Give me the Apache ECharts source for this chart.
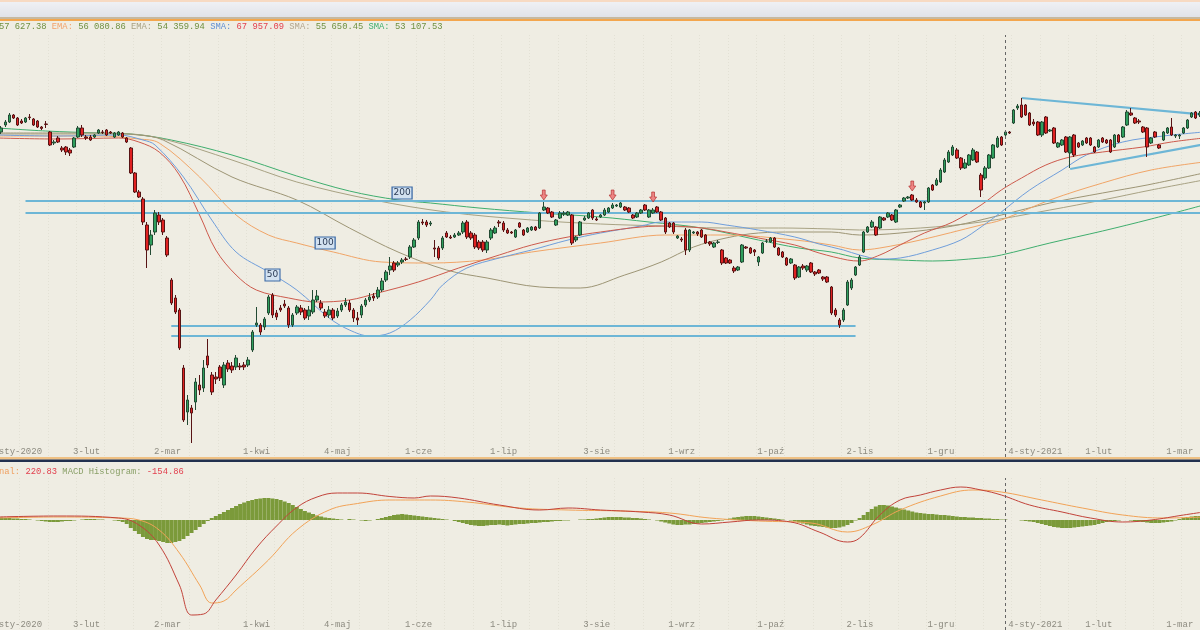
<!DOCTYPE html>
<html><head><meta charset="utf-8">
<script src="https://cdn.jsdelivr.net/npm/echarts@6/dist/echarts.min.js"></script>
<style>html,body{margin:0;padding:0;background:#efede3;overflow:hidden;width:1200px;height:630px}#c{position:absolute;left:-17px;top:0;width:1240px;height:630px}</style>
</head><body><div id="c"></div><script>
// Daily candles [open, close, low, high], Jan 2020 - Mar 2021 (index = trading day)
const candles = [
[53650,53800,53550,53900],[53750,53900,53650,54000],[53900,53700,53600,54000],[53650,53500,53400,53750],[53400,53600,53300,53700],
[53750,53900,53650,54000],[53900,54250,53850,54350],[54250,54100,54050,54300],[54100,53750,53700,54150],[53950,53850,53800,54050],
[53900,54100,53850,54150],[54150,54120,54000,54300],[54050,53750,53700,54100],[53950,53650,53600,54000],[53650,53580,53500,53700],
[53800,53780,53600,53950],[53400,52750,52700,53450],[52850,52900,52750,53000],[53100,52900,52850,53200],[52600,52500,52400,52700],
[52650,52400,52250,52700],[52500,52350,52200,52600],[52650,53100,52600,53150],[53150,53600,53100,53700],[53600,53250,53150,53750],
[53150,53100,53000,53250],[53150,53000,52950,53250],[53150,53250,53100,53300],[53350,53500,53300,53550],[53400,53380,53300,53500],
[53500,53250,53200,53550],[53400,53350,53300,53450],[53150,53350,53100,53400],[53250,53400,53200,53450],[53350,53150,53100,53400],
[53100,52900,52850,53150],[52600,51350,51300,52650],[51350,50400,50350,51400],[50400,50150,50100,50500],[50050,48900,48750,50150],
[48750,47500,46600,48900],[47750,48250,47250,48500],[48400,49350,48250,49500],[49250,48900,48750,49400],[49000,48400,48250,49100],
[48100,47250,47150,48200],[46000,44850,44750,46100],[45100,44400,44300,45250],[44500,42600,42500,44600],[41600,39000,38900,41750],
[39400,40000,38750,40250],[39600,39350,37850,39750],[39900,40900,39500,41100],[40750,40500,40250,41250],[40600,41600,40400,42000],
[42200,41750,41600,43050],[41250,40400,40250,41400],[41150,41050,40800,41400],[41650,41100,40950,41750],[40750,41750,40600,41900],
[41850,41550,41400,42000],[41700,41500,41350,41900],[41650,42100,41500,42250],[41700,41650,41500,41850],[41750,41650,41500,41900],
[41750,42000,41650,42150],[42500,43400,42400,43500],[43750,43850,43650,44650],[43750,43400,43250,43850],[43650,44050,43500,44150],
[44350,45150,44250,45250],[45250,44250,44100,45350],[44350,44150,44000,44500],[44600,44500,44400,44750],[44800,44700,44600,45000],
[44600,43750,43600,44700],[43750,44250,43650,44350],[44350,44650,44250,44750],[44600,44400,44250,44750],[44500,44100,44000,44600],
[44200,44500,44000,44700],[44400,45000,44300,45500],[45000,45200,44900,45500],[44850,44600,44500,45000],[44400,44200,44100,44550],
[44250,44500,44100,44700],[44500,44100,44000,44600],[44200,44450,44100,44600],[44500,44750,44400,44850],[44750,44900,44650,45100],
[44850,44500,44400,45000],[44500,44100,43900,44600],[44100,44000,43750,44400],[44250,44700,44100,44800],[44750,45000,44650,45100],
[45000,45150,44900,45350],[45200,45100,44950,45350],[45150,45500,45050,45650],[45500,45950,45400,46100],[46000,46400,45900,46500],
[46500,46700,46250,47150],[46850,46500,46400,46950],[46750,46850,46650,46950],[46900,47000,46800,47100],[47050,47030,46950,47150],
[47150,47650,47050,47750],[47650,48000,47600,48100],[48100,48900,48000,49000],[48900,48850,48750,49050],[48900,48750,48650,49000],
[48800,48850,48700,48950],[47600,47550,47150,48000],[47600,47100,47000,47700],[47600,48100,47500,48200],[48350,48150,48100,48450],
[48150,48100,48050,48250],[48150,48250,48100,48350],[48250,48350,48200,48450],[48400,48850,48300,48950],[48900,48150,48050,49000],
[48350,48100,48000,48450],[48250,47650,47550,48350],[47900,47600,47500,48000],[47900,47500,47400,48000],[47500,47900,47350,48000],
[48100,48500,48000,48600],[48350,48600,48300,48700],[48900,48850,48650,49000],[48850,48500,48400,48950],[48500,48350,48300,48600],
[48400,48350,48300,48450],[48150,48500,48100,48550],[48850,48650,48600,48900],[48500,48250,48200,48550],[48400,48600,48350,48650],
[48500,48650,48450,48700],[48650,48500,48450,48700],[48600,49350,48550,49400],[49500,49650,49450,49900],[49600,49350,49300,49650],
[49400,49150,49100,49450],[48750,49000,48700,49050],[49100,49350,49050,49450],[49300,49350,49200,49450],[49250,49400,49200,49450],
[49250,47850,47750,49300],[48000,48150,47900,48200],[48250,48900,48200,48950],[49000,49100,48950,49200],[49100,49350,49050,49400],
[49500,49100,49000,49550],[49050,49000,48950,49150],[49150,49250,49100,49300],[49250,49500,49200,49600],[49400,49600,49350,49650],
[49600,49750,49550,49850],[49700,49750,49650,49800],[49650,49850,49600,49900],[49650,49500,49450,49700],[49600,49400,49350,49650],
[49250,49100,49050,49300],[49150,49350,49100,49400],[49350,49500,49300,49550],[49750,49500,49450,49800],[49150,49500,49100,49550],
[49350,49500,49300,49600],[49650,49400,49350,49700],[49400,49000,48950,49450],[49100,48400,48300,49150],[48850,48650,48600,48900],
[48850,48400,48300,48900],[48100,48200,48050,48250],[48050,48000,47900,48150],[48500,47500,47250,48600],[47500,48500,47400,48550],
[48350,48400,48300,48450],[48400,48300,48200,48450],[48500,48150,48100,48550],[48250,47850,47800,48300],[47900,47800,47700,47950],
[47650,47850,47600,47900],[47880,47900,47800,48000],[47500,46850,46750,47550],[47100,46850,46800,47150],[47000,46850,46800,47050],
[46600,46450,46350,46700],[46500,46650,46450,46700],[46900,47750,46850,47800],[47650,47600,47550,47700],[47600,47350,47300,47650],
[47500,47400,47200,47550],[46900,47150,46700,47200],[47350,47850,47300,47900],[47950,47950,47850,48050],[47900,48100,47850,48150],
[48100,47650,47600,48150],[47600,47250,47200,47650],[47400,47150,47100,47450],[47100,46750,46700,47150],[46850,47050,46800,47100],
[46750,46100,46000,46800],[46150,46650,46100,46700],[46700,46600,46500,46800],[46500,46700,46400,46750],[46850,46400,46350,46900],
[46400,46300,46200,46450],[46500,46350,46300,46550],[46150,46050,45950,46200],[46150,45900,45850,46200],[45650,44350,44250,45700],
[44500,44250,44150,44600],[44000,43750,43600,44100],[44000,44500,43900,44600],[44750,45900,44700,46000],[45600,46000,45500,46100],
[46250,46650,46200,46700],[46750,47150,46700,47250],[47400,48400,47350,48450],[48400,48650,48350,48700],[48650,48900,48600,49000],
[48650,48250,48200,48700],[48600,49150,48550,49200],[49100,49000,48950,49150],[49150,49350,49100,49400],[49250,49000,48950,49300],
[48900,49500,48850,49550],[49650,49750,49600,49800],[49950,50100,49900,50150],[50100,50150,50050,50200],[50250,50000,49950,50300],
[50000,49900,49850,50100],[49900,49650,49600,49950],[49850,49900,49500,49950],[49900,50600,49850,50650],[50750,50500,50450,50800],
[50750,51000,50700,51100],[50900,51500,50850,51600],[51400,52000,51350,52100],[51900,52400,51850,52500],[52250,52650,52200,52750],
[52500,52100,52050,52600],[52100,51600,51500,52150],[51600,51850,51550,52050],[51750,52250,51700,52300],[52000,52500,51950,52600],
[52400,51900,51850,52450],[51250,50500,50150,51350],[51100,51600,51000,51700],[51600,52250,51550,52300],[52100,52750,52050,52800],
[52650,53100,52600,53200],[53150,52750,52700,53200],[53250,53400,53200,53450],[53400,53350,53300,53450],[53850,54500,53800,54550],
[54600,54700,54500,54800],[54750,54150,54100,55100],[54750,54250,54200,54800],[54350,53750,53700,54400],[53900,53800,53700,54050],
[53900,53250,53200,53950],[53250,53900,53150,53950],[54150,53350,53300,54200],[53450,53500,53400,53550],[53600,52850,52800,53650],
[52650,52850,52600,52900],[52750,53000,52700,53050],[53150,52400,52350,53200],[52350,53150,51600,53200],[53250,52250,52150,53300],
[52850,52650,52600,52900],[52750,52950,52700,53000],[53100,52850,52800,53150],[53100,52750,52700,53150],[52650,52400,52350,52700],
[52650,53000,52600,53050],[53100,52900,52850,53150],[53000,52850,52800,53050],[53000,52400,52350,53050],[52650,53250,52600,53300],
[53250,52900,52850,53300],[53150,53650,53100,53700],[53750,54400,53700,54500],[54350,54250,54200,54600],[54100,53850,53800,54150],
[53950,53900,53800,54050],[53650,53400,53350,53700],[53600,52650,52150,53650],[52850,53100,52800,53150],[53400,53150,53100,53450],
[52750,52600,52550,52800],[53000,53400,52950,53450],[53350,53600,53300,53650],[53650,53250,53200,54100],[53200,53250,53100,53300],
[53200,53250,53050,53300],[53350,53600,53300,53650],[53600,54000,53550,54050],[54150,54350,54100,54400],[54400,54100,54050,54450],
[54250,54350,54150,54450]
];
// month tick labels: [trading-day index, label]
const monthTicks = [[0,'2-sty-2020'],[21,'3-lut'],[41,'2-mar'],[63,'1-kwi'],[83,'4-maj'],[103,'1-cze'],[124,'1-lip'],[147,'3-sie'],[168,'1-wrz'],[190,'1-paź'],[212,'2-lis'],[232,'1-gru'],[252,'4-sty-2021'],[271,'1-lut'],[291,'1-mar']];
// moving averages [day, value]
const emaRed = [[3,53100],[18,53050],[33,53100],[38,52900],[43,52400],[48,51250],[53,49250],[57,47500],[62,46250],[67,45500],[75,45100],[82,44900],[90,45000],[97,45350],[107,45900],[117,46600],[127,47250],[135,47750],[144,48150],[152,48400],[162,48650],[169,48700],[177,48600],[183,48400],[191,48100],[200,47750],[206,47350],[213,47000],[216,46950],[221,47250],[226,47750],[232,48350],[239,48900],[246,49750],[251,50500],[256,51100],[262,51750],[268,52150],[276,52400],[286,52650],[293,52900],[301,53100]];
const emaOrange = [[3,53200],[28,53200],[38,53050],[43,52850],[53,51150],[62,49250],[70,48250],[77,47850],[86,47400],[98,46900],[110,46850],[123,47000],[135,47400],[152,47850],[168,48250],[183,48250],[200,48000],[209,47750],[216,47500],[221,47600],[231,48000],[246,48750],[251,49000],[263,50000],[276,50850],[288,51500],[301,51900]];
const emaOlive = [[3,53300],[35,53300],[45,53000],[61,52000],[77,50900],[96,50000],[114,49400],[135,49000],[152,48800],[167,48700],[182,48600],[196,48600],[209,48550],[216,48500],[231,48600],[246,48900],[263,49500],[276,50000],[288,50500],[301,51000]];
const smaBlue = [[3,53250],[18,53200],[33,53250],[39,53000],[42,52750],[49,51150],[56,49000],[62,47400],[70,46400],[77,45500],[85,44100],[90,43500],[95,43200],[100,43350],[105,44000],[110,45000],[113,45750],[119,46600],[127,47100],[135,47500],[144,48000],[152,48350],[162,48700],[167,48900],[177,48900],[183,48750],[191,48500],[200,48150],[206,47800],[212,47500],[216,47250],[221,47050],[226,47100],[234,47500],[241,48000],[246,48650],[251,49400],[258,50500],[266,51500],[272,52250],[281,52900],[291,53200],[301,53400]];
const smaTan = [[3,53350],[28,53350],[38,53250],[44,53000],[61,51150],[77,50000],[90,48600],[102,47400],[114,46500],[124,46100],[137,45650],[147,45600],[158,46250],[167,46900],[175,47650],[183,48100],[191,48350],[200,48400],[209,48400],[216,48250],[226,48350],[239,48700],[251,49250],[263,49850],[276,50350],[287,50750],[301,51350]];
const smaGreen = [[3,53600],[15,53450],[28,53350],[36,53300],[46,53000],[61,52250],[77,51200],[90,50450],[102,50000],[110,49850],[122,49600],[137,49350],[152,49150],[164,48900],[177,48600],[191,48000],[201,47600],[209,47400],[216,47100],[226,47000],[234,46950],[246,47100],[251,47250],[263,47850],[276,48450],[288,49050],[301,49750]];
// support / resistance levels and trendlines
const levelsUpper = [49950, 49350];
const levelsLower = [43700, 43200];
const trendUpper = [[256,55100],[301,54265]];
const trendLower = [[268,51550],[301,52785]];
const periodTags = [[103,50350,'200'],[84,47850,'100'],[71,46250,'50']];
const arrows = [[138,50250],[155,50250],[165,50150],[229,50700]];
// MACD panel
const macdLine = [[3,60],[18,80],[33,40],[38,-100],[43,-500],[48,-1300],[51,-1900],[54,-1880],[57,-1600],[62,-1100],[67,-560],[72,-120],[77,250],[82,460],[87,540],[92,540],[100,470],[106,440],[110,480],[117,440],[127,300],[137,200],[144,240],[152,200],[162,160],[169,100],[177,-80],[184,-40],[191,0],[199,-40],[206,-240],[213,-440],[216,-360],[221,100],[226,400],[231,500],[236,600],[241,660],[246,600],[251,500],[258,300],[266,160],[273,40],[281,-40],[288,0],[296,100],[301,160]];
const signalLine = [[3,40],[18,60],[33,40],[38,0],[43,-200],[48,-660],[53,-1300],[56,-1660],[59,-1620],[62,-1400],[70,-800],[77,-200],[85,200],[92,330],[100,400],[110,400],[119,360],[132,240],[144,200],[157,180],[169,140],[179,40],[191,-20],[204,-60],[213,-240],[219,-100],[226,200],[236,480],[244,600],[251,560],[261,400],[271,240],[281,100],[291,40],[301,60]];
const macdHist = [
40,50,60,60,50,40,40,30,30,20,20,10,0,
-10,-20,-30,-40,-40,-40,-30,-20,-20,-10,
0,10,20,20,20,10,10,0,0,-10,-20,-40,
-80,-160,-220,-280,-340,-380,-400,-400,-420,-440,-460,-460,-440,-420,-380,-320,-260,-200,-140,-80,-20,40,
80,120,160,200,240,280,320,350,380,400,420,430,440,440,430,420,400,370,340,300,260,220,180,150,120,90,70,50,40,30,20,10,0,
20,10,0,-10,-20,-10,0,20,40,60,
80,100,110,120,110,100,90,80,70,60,50,
40,30,20,10,0,-20,-40,-60,-80,
-100,-110,-120,-120,-110,-100,-100,-90,-100,-110,-100,-90,-80,-80,-70,-60,-60,-50,-40,-40,-30,-20,
-20,-10,-10,0,0,10,10,20,20,30,
40,50,60,60,60,60,50,50,40,40,30,20,10,0,-10,
-30,-50,-70,-90,-100,-100,-90,-90,-80,-70,-60,-50,-40,-30,-20,-10,
10,30,50,60,70,80,80,80,70,60,50,40,30,20,10,0,-10,
-30,-50,-70,-90,-110,-120,-130,-140,-150,-160,-160,-150,-130,-100,-60,
-10,40,100,160,220,270,300,300,290,270,250,230,210,190,170,150,140,
130,120,120,110,100,100,90,80,70,60,60,50,50,40,40,30,30,20,20,10,
10,0,0,0,-10,-20,-30,-40,-60,
-80,-100,-120,-140,-150,-160,-160,-160,-150,-140,-130,-120,-110,-100,-80,-60,-40,-30,
-20,-10,0,0,-10,-20,-30,
-40,-50,-60,-60,-60,-50,-40,-30,-10,
20,40,60,70,80,80
];
const dividerDay = '252';

const N = 302;
const cats = Array.from({length: N}, (_, i) => String(i));
const tickMap = {};
monthTicks.forEach(([i, l]) => { tickMap[i] = l; });
const BW = 4.049, WIDTH = N * BW;
const OX = 17; // container is shifted 17px left of the page
const MONO = "'Liberation Mono','DejaVu Sans Mono',monospace";

function xAxisDef(gi) {
  return {
    type: 'category', gridIndex: gi, data: cats, boundaryGap: true,
    axisLine: {show: false}, axisTick: {show: false},
    splitLine: {show: true, interval: (i) => (i % 7 === 2), lineStyle: {color: '#e3e1d5', type: [1, 2]}},
    axisLabel: {
      show: true, inside: true, margin: 1, align: 'left', padding: [0, 0, 0, 3],
      interval: (i) => tickMap[i] !== undefined,
      formatter: (v, i) => tickMap[i] || '',
      fontFamily: MONO, fontSize: 9, color: '#8d8b80'
    }
  };
}
function lineSeries(data, color) {
  return {type: 'line', data, xAxisIndex: 0, yAxisIndex: 0, showSymbol: false, smooth: 0.35,
    lineStyle: {color, width: 1}, silent: true, z: 2};
}
function seg(data, width) {
  return {type: 'line', data, xAxisIndex: 0, yAxisIndex: 0, showSymbol: false,
    lineStyle: {color: '#6db6d6', width}, silent: true, z: 3};
}

const series = [
  lineSeries(smaGreen, '#3fae6e'),
  lineSeries(emaOlive, '#a8a283'),
  lineSeries(smaTan, '#9d9575'),
  lineSeries(emaOrange, '#f1a567'),
  lineSeries(smaBlue, '#6f9edb'),
  lineSeries(emaRed, '#cd5a4c'),
  seg([[10, levelsUpper[0]], [301, levelsUpper[0]]], 2),
  seg([[10, levelsUpper[1]], [301, levelsUpper[1]]], 2),
  seg([[46, levelsLower[0]], [215, levelsLower[0]]], 2),
  seg([[46, levelsLower[1]], [215, levelsLower[1]]], 2),
  seg(trendUpper, 2.2),
  seg(trendLower, 2.2),
  {
    type: 'candlestick', data: candles, xAxisIndex: 0, yAxisIndex: 0, barWidth: 3, z: 4,
    itemStyle: {color: '#2f9f5d', color0: '#e02222', borderColor: '#234a33', borderColor0: '#571414', borderWidth: 1},
    markLine: {silent: true, symbol: 'none', label: {show: false},
      lineStyle: {color: '#666', type: [3, 3], width: 1}, data: [{xAxis: dividerDay}]}
  },
  {
    type: 'scatter', xAxisIndex: 0, yAxisIndex: 0, z: 6, silent: true,
    data: periodTags.map(([d, v, t]) => ({value: [d, v], name: t, symbolSize: t.length > 2 ? [20, 12] : [15, 12]})),
    symbol: 'rect',
    itemStyle: {color: '#d3e2f1', borderColor: '#3d6ba6', borderWidth: 1, opacity: 1},
    label: {show: true, position: 'inside', formatter: (p) => p.name, fontSize: 9, color: '#2b3b55', fontFamily: "'DejaVu Sans',sans-serif"}
  },
  {
    type: 'scatter', xAxisIndex: 0, yAxisIndex: 0, z: 6, silent: true, data: arrows,
    symbol: 'path://M3,0 L7,0 L7,6 L10,6 L5,12 L0,6 L3,6 Z', symbolSize: [7, 10],
    itemStyle: {color: '#ec6a6a', borderColor: '#b02a2a', borderWidth: 0.8}
  },
  {
    type: 'bar', data: macdHist, xAxisIndex: 1, yAxisIndex: 1, barWidth: 4, itemStyle: {color: '#7b9a3a'}, silent: true,
    markLine: {silent: true, symbol: 'none', label: {show: false},
      lineStyle: {color: '#666', type: [3, 3], width: 1}, data: [{xAxis: dividerDay}]}
  },
  {type: 'line', data: signalLine, xAxisIndex: 1, yAxisIndex: 1, showSymbol: false, smooth: 0.4, lineStyle: {color: '#f2a357', width: 1}, silent: true},
  {type: 'line', data: macdLine, xAxisIndex: 1, yAxisIndex: 1, showSymbol: false, smooth: 0.4, lineStyle: {color: '#c2433a', width: 1}, silent: true}
];

const legendMain = '{v|57 627.38} {e1|EMA:} {v|56 080.86} {e2|EMA:} {v|54 359.94} {s1|SMA:} {r|67 957.09} {s2|SMA:} {v|55 650.45} {s3|SMA:} {v|53 107.53}';
const legendMacd = '{o|nal:} {r|220.83} {g|MACD Histogram:} {r|-154.86}';
const F = '8.8px ' + MONO;

const chart = echarts.init(document.getElementById('c'), null, {renderer: 'canvas'});
chart.setOption({
  animation: false,
  backgroundColor: '#efede3',
  grid: [
    {left: 0, width: WIDTH, top: 35, height: 422},
    {left: 0, width: WIDTH, top: 478, height: 152}
  ],
  xAxis: [xAxisDef(0), xAxisDef(1)],
  yAxis: [
    {type: 'value', gridIndex: 0, min: 37150, max: 58250, axisLabel: {show: false}, axisLine: {show: false}, axisTick: {show: false}, splitLine: {show: false}},
    {type: 'value', gridIndex: 1, min: -2200, max: 840, axisLabel: {show: false}, axisLine: {show: false}, axisTick: {show: false}, splitLine: {show: false}}
  ],
  series,
  graphic: [
    {type: 'rect', shape: {x: 0, y: 0, width: 1240, height: 2}, style: {fill: '#f7dac3'}, z: 10},
    {type: 'rect', shape: {x: 0, y: 2, width: 1240, height: 15}, style: {fill: new echarts.graphic.LinearGradient(0, 0, 0, 1, [{offset: 0, color: '#eff0f4'}, {offset: 1, color: '#e1e3e9'}])}, z: 10},
    {type: 'rect', shape: {x: 0, y: 17, width: 1240, height: 2}, style: {fill: '#c6b9a1'}, z: 10},
    {type: 'rect', shape: {x: 0, y: 19, width: 1240, height: 2}, style: {fill: '#f3a64e'}, z: 10},
    {type: 'rect', shape: {x: 0, y: 457, width: 1240, height: 2.5}, style: {fill: '#efc184'}, z: 10},
    {type: 'rect', shape: {x: 0, y: 459.5, width: 1240, height: 2.5}, style: {fill: '#22314f'}, z: 10},
    {type: 'text', x: OX - 1, y: 22, z: 11, style: {text: legendMain, font: F, fill: '#6f9040',
      rich: {v: {fill: '#6f9040', font: F}, e1: {fill: '#f2a26a', font: F}, e2: {fill: '#a8a283', font: F},
        s1: {fill: '#5f8fd4', font: F}, r: {fill: '#e2404e', font: F}, s2: {fill: '#b2a58c', font: F}, s3: {fill: '#3fae6e', font: F}}}},
    {type: 'text', x: OX - 1, y: 467, z: 11, style: {text: legendMacd, font: F, fill: '#7f9a5a',
      rich: {o: {fill: '#f0a060', font: F}, r: {fill: '#e2404e', font: F}, g: {fill: '#8aa068', font: F}}}}
  ]
});
</script></body></html>
